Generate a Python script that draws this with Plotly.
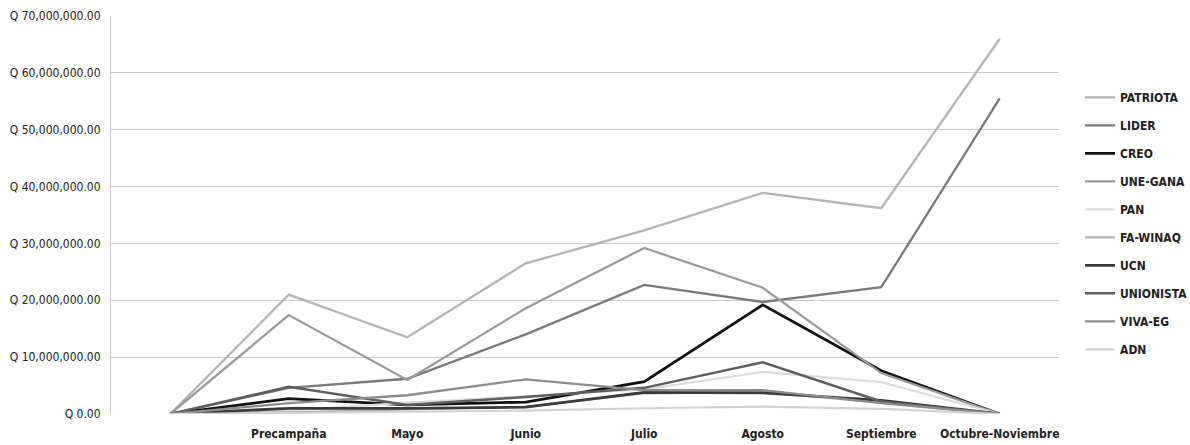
import plotly.graph_objects as go

# Periods of the 2011 campaign (first point is the empty starting period)
periods = ["", "Precampaña", "Mayo", "Junio", "Julio", "Agosto", "Septiembre", "Octubre-Noviembre"]

# Spending per party, in millions of quetzales
patriota = [0, 21.0, 13.5, 26.5, 32.3, 38.9, 36.2, 66.0]
lider = [0, 4.6, 6.2, 14.0, 22.7, 19.7, 22.3, 55.5]
creo = [0, 2.7, 1.6, 2.1, 5.7, 19.2, 7.6, 0]
une_gana = [0, 17.4, 6.0, 18.6, 29.2, 22.2, 7.2, 0]
pan = [0, 0.6, 2.0, 3.2, 4.3, 7.4, 5.6, 0]
fa_winaq = [0, 0.3, 0.8, 1.3, 3.6, 3.9, 2.0, 0]
ucn = [0, 1.0, 1.0, 1.2, 3.8, 3.7, 2.4, 0]
unionista = [0, 4.8, 1.6, 3.0, 4.6, 9.1, 2.2, 0]
viva_eg = [0, 1.9, 3.3, 6.1, 4.2, 4.2, 1.9, 0]
adn = [0, 0.2, 0.4, 0.6, 1.0, 1.3, 0.9, 0]

parties = ["PATRIOTA", "LIDER", "CREO", "UNE-GANA", "PAN", "FA-WINAQ", "UCN", "UNIONISTA", "VIVA-EG", "ADN"]
values = [patriota, lider, creo, une_gana, pan, fa_winaq, ucn, unionista, viva_eg, adn]
colors = ["#b4b4b4", "#7a7a7a", "#111111", "#9a9a9a", "#dcdcdc",
          "#b0b0b0", "#3a3a3a", "#5e5e5e", "#8c8c8c", "#d2d2d2"]
widths = [2.3, 2.3, 2.8, 2.3, 2.1, 2.1, 2.8, 2.5, 2.3, 2.1]

FONT = "DejaVu Sans Condensed, Liberation Sans Narrow, sans-serif"
xs = list(range(len(periods)))

fig = go.Figure()
for name, vals, col, w in zip(parties, values, colors, widths):
    fig.add_trace(go.Scatter(
        x=xs, y=[v * 1e6 for v in vals], mode="lines", name=name,
        legendgroup=name, line=dict(color=col, width=w),
    ))

fig.update_layout(
    width=1190, height=445,
    margin=dict(l=111, r=131, t=16, b=31),
    paper_bgcolor="white", plot_bgcolor="white",
    font=dict(family=FONT, size=12, color="#2a2a2a"),
    showlegend=True,
    legend=dict(
        xref="container", yref="paper",
        x=0.9076, xanchor="left", y=0.832, yanchor="top",
        tracegroupgap=9, itemwidth=30,
        font=dict(family=FONT, size=12, color="#222222", weight="bold"),
        bgcolor="rgba(0,0,0,0)",
    ),
    xaxis=dict(
        tickmode="array", tickvals=xs, ticktext=periods,
        range=[-0.5, len(periods) - 0.5], automargin=False,
        showgrid=False, zeroline=False, showline=False, ticks="",
        ticklabelstandoff=11,
        tickfont=dict(family=FONT, size=12, color="#222222", weight="bold"),
    ),
    yaxis=dict(
        range=[0, 70e6], dtick=10e6, tick0=0, automargin=False,
        tickprefix="Q ", tickformat=",.2f",
        showgrid=True, gridcolor="#c9c9c9", gridwidth=1,
        zeroline=False, showline=True, linecolor="#c9c9c9", linewidth=1,
        ticks="", ticklabelstandoff=7,
        tickfont=dict(family=FONT, size=12, color="#222222"),
    ),
)

fig.write_html("out.html")
